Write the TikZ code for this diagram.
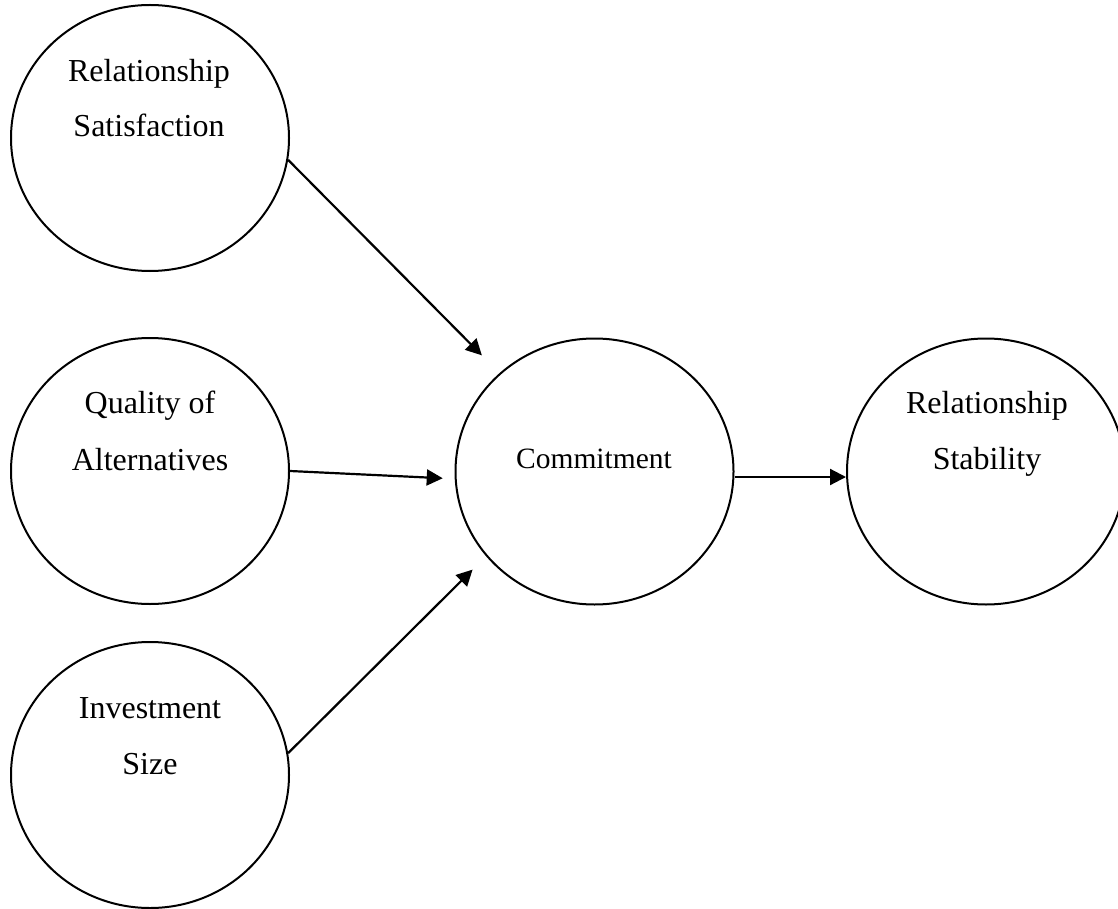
\documentclass[tikz,border=0pt]{standalone}
\usepackage{fontspec}
\setmainfont{Liberation Serif}
\usetikzlibrary{shapes.geometric,arrows.meta}
\tikzset{
  ell/.style={draw, ellipse, line width=2pt, minimum width=278pt, minimum height=266pt, inner sep=0pt},
  lbl/.style={anchor=base, inner sep=0pt, font=\fontsize{32}{38}\selectfont},
  conn/.style={line width=2.2pt, -{Triangle[length=16pt,width=16pt]}}
}
\begin{document}
\begin{tikzpicture}[x=1pt,y=-1pt]
\useasboundingbox (0,0) rectangle (1118,909);
\clip (0,0) rectangle (1118,909);
% circles
\node[ell] (c1) at (150,138) {};
\node[ell] (c2) at (150,471) {};
\node[ell] (c3) at (150,775) {};
\node[ell] (com) at (594.5,471.5) {};
\node[ell] (stab) at (986,471.5) {};
% labels
\node[lbl] (t1a) at (149,82) {Relationship};
\node[lbl] (t1b) at (149,137) {Satisfaction};
\node[lbl] (t2a) at (150,413) {Quality of};
\node[lbl] (t2b) at (150,470) {Alternatives};
\node[lbl] (t3a) at (150,718) {Investment};
\node[lbl] (t3b) at (150,774) {Size};
\node[lbl, font=\fontsize{29.5}{35}\selectfont] (tc) at (594,468) {Commitment};
\node[lbl] (t5a) at (987,413) {Relationship};
\node[lbl] (t5b) at (987,469) {Stability};
% connectors
\draw[conn, shorten >=25pt] (c1.-9.5) -- (com.134.4);
\draw[conn, shorten >=12pt] (c2.0) -- (com.-177.5);
\draw[conn, shorten >=19pt] (c3.9.1) -- (com.-142.1);
\draw[conn] ([yshift=-5.5pt]com.east) -- ([yshift=-5.5pt]stab.west);
\end{tikzpicture}
\end{document}
